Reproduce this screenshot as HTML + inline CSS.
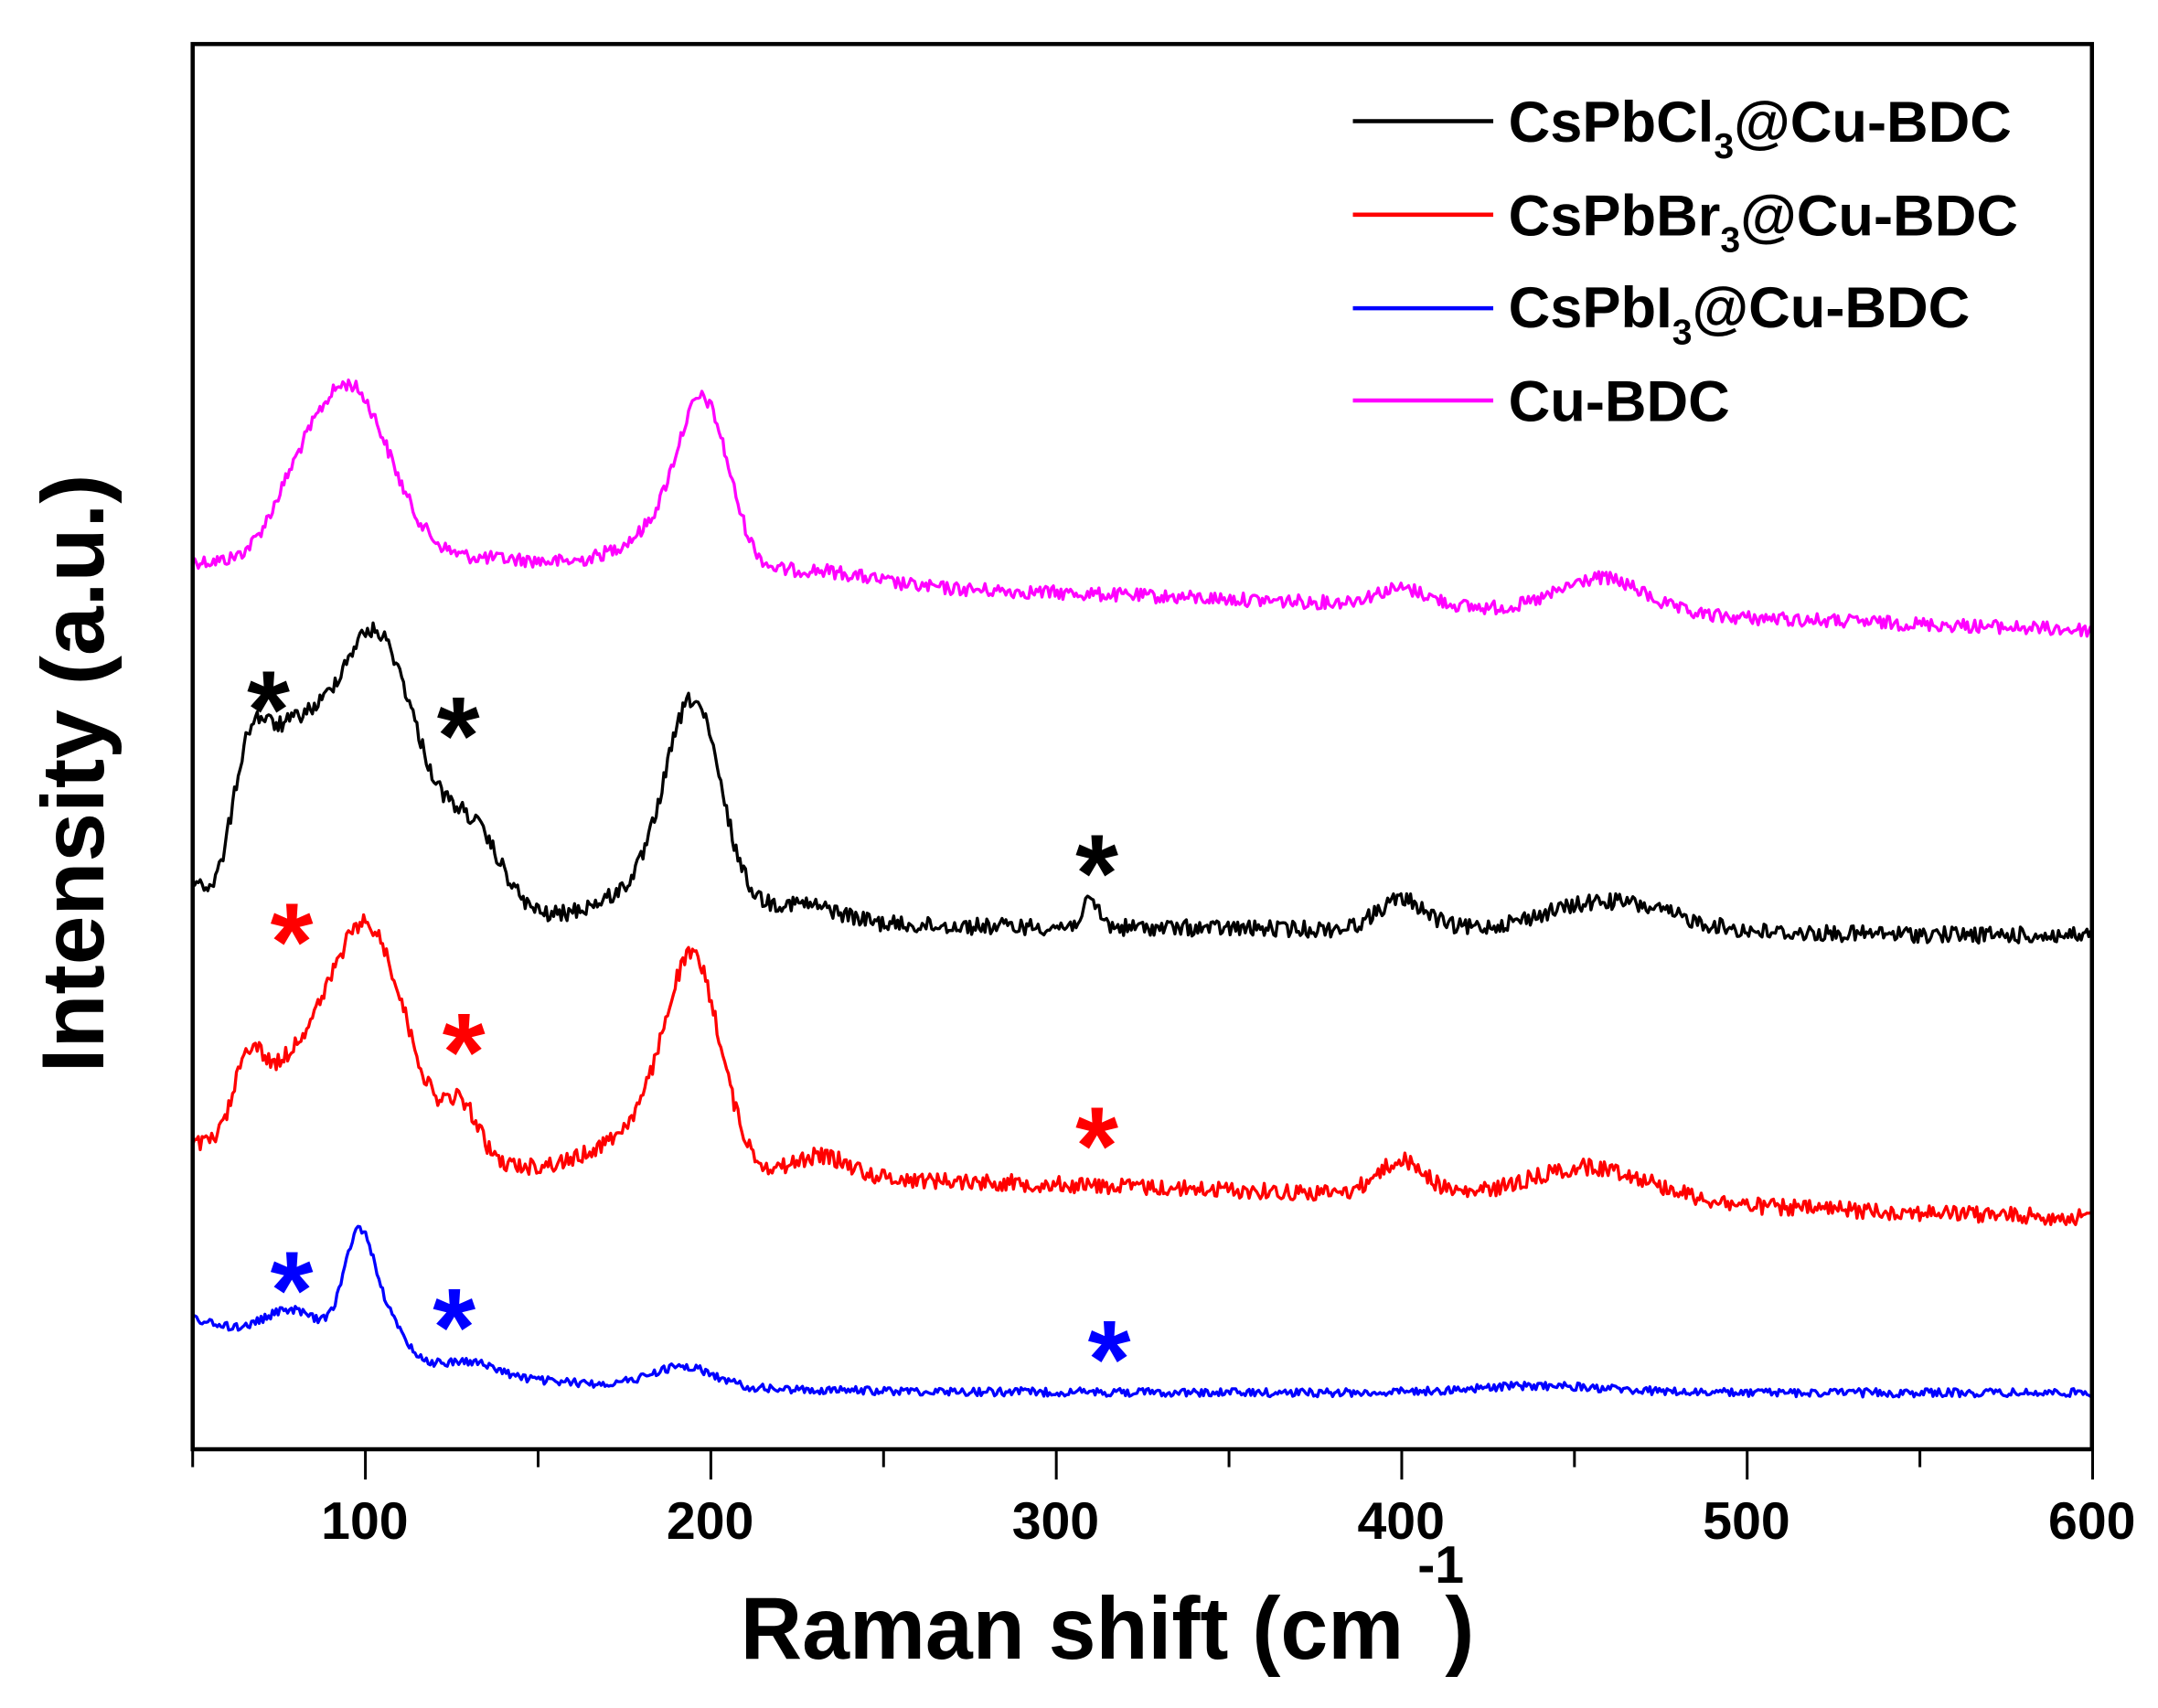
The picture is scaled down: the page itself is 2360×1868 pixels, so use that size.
<!DOCTYPE html>
<html><head><meta charset="utf-8"><style>
html,body{margin:0;padding:0;background:#fff;}
svg{display:block;}
text{font-family:"Liberation Sans",Arial,sans-serif;font-weight:bold;fill:#000;}
</style></head><body>
<svg id="s" width="2360" height="1868" viewBox="0 0 1568 1241" preserveAspectRatio="none" xmlns="http://www.w3.org/2000/svg">
<rect x="0" y="0" width="1568" height="1241" fill="#fff"/>
<g id="series" fill="none" stroke-width="2.2" stroke-linejoin="round"></g>
<rect x="140" y="32" width="1380" height="1021" fill="none" stroke="#000" stroke-width="3"/>
<g id="ticks" stroke="#000" stroke-width="2"></g>
<g font-size="38" text-anchor="middle">
<text x="265" y="1118">100</text><text x="516" y="1118">200</text><text x="767" y="1118">300</text>
<text x="1018" y="1118">400</text><text x="1269" y="1118">500</text><text x="1520" y="1118">600</text>
</g>
<text x="538" y="1205" font-size="64" textLength="482" lengthAdjust="spacingAndGlyphs">Raman shift (cm</text>
<text x="1030" y="1150" font-size="38">-1</text>
<text x="1050" y="1205" font-size="64">)</text>
<text transform="translate(75,562) rotate(-90)" font-size="64" text-anchor="middle" textLength="435" lengthAdjust="spacingAndGlyphs">Intensity (a.u.)</text>
<g stroke-width="3">
<line x1="983" y1="88" x2="1085" y2="88" stroke="#000"/>
<line x1="983" y1="156" x2="1085" y2="156" stroke="#f00"/>
<line x1="983" y1="224" x2="1085" y2="224" stroke="#00f"/>
<line x1="983" y1="291" x2="1085" y2="291" stroke="#f0f"/>
</g>
<g font-size="42">
<text x="1096" y="103">CsPbCl<tspan font-size="26" dy="12">3</tspan><tspan dy="-12">@Cu-BDC</tspan></text>
<text x="1096" y="171">CsPbBr<tspan font-size="26" dy="12">3</tspan><tspan dy="-12">@Cu-BDC</tspan></text>
<text x="1096" y="238">CsPbI<tspan font-size="26" dy="12">3</tspan><tspan dy="-12">@Cu-BDC</tspan></text>
<text x="1096" y="306">Cu-BDC</text>
</g>
<g id="stars" font-size="80" text-anchor="middle"></g>
</svg>
<script>
var NS="http://www.w3.org/2000/svg";
var seed=12345;function rnd(){seed=(seed*1103515245+12345)%2147483648;return seed/2147483648;}
function X(v){return 140+(v-50)*2.51;}
function g(v,c,w){return Math.exp(-0.5*((v-c)/w)*((v-c)/w));}
var series=[
 {c:"#f0f",base:function(v){return 408+(v-50)/550*50;},pk:[[95,130,12],[78,20,7],[198,115,7.5],[185,28,12],[140,10,25],[230,10,15],[400,12,8],[458,25,12]],n:5},
 {c:"#000",base:function(v){return 668+(v-50)/550*12-25*Math.exp(-((v-50)/5)*((v-50)/5));},pk:[[100,175,10],[78,125,10],[130,70,9],[66,75,5],[112,70,8],[195,150,8],[180,22,14],[225,15,12],[310,18,2.5],[400,22,7],[460,22,18]],n:6},
 {c:"#f00",base:function(v){return 840+(v-50)/550*45-5*Math.exp(-((v-50)/5)*((v-50)/5));},pk:[[100,130,9],[82,75,13],[128,40,5],[66,45,4],[112,45,8],[195,145,8],[180,28,12],[232,15,8],[400,25,7],[455,25,18]],n:6},
 {c:"#00f",base:function(v){return 1012-55*Math.exp(-(v-50)/55);},pk:[[98,80,4.5],[106,30,6],[80,28,9],[192,15,9],[130,10,8],[440,5,20]],n:3}
];
var sg=document.getElementById("series");
series.forEach(function(s){
 var d="";
 for(var v=50;v<=600;v+=0.55){
  var y=s.base(v);
  s.pk.forEach(function(p){y-=p[1]*g(v,p[0],p[2]);});
  y+=(rnd()-0.5)*2*s.n;
  d+=(d?"L":"M")+X(v).toFixed(1)+" "+y.toFixed(1);
 }
 var p=document.createElementNS(NS,"path");p.setAttribute("d",d);p.setAttribute("stroke",s.c);sg.appendChild(p);
});
var tg=document.getElementById("ticks");
for(var v=50;v<=600;v+=50){
 var l=document.createElementNS(NS,"line");var x=X(v);
 l.setAttribute("x1",x);l.setAttribute("x2",x);l.setAttribute("y1",1053);l.setAttribute("y2",(v%100==0)?1075:1066);tg.appendChild(l);
}
var st=[[195,503,"#000"],[333,522,"#000"],[797,622,"#000"],[212,672,"#f00"],[337,752,"#f00"],[797,820,"#f00"],[212,925,"#00f"],[330,952,"#00f"],[806,975,"#00f"]];
var sgp=document.getElementById("stars");
st.forEach(function(a){var t=document.createElementNS(NS,"text");t.setAttribute("x",a[0]);t.setAttribute("y",a[1]+40);t.setAttribute("fill",a[2]);t.style.fill=a[2];t.textContent="*";sgp.appendChild(t);});
</script>
</body></html>
